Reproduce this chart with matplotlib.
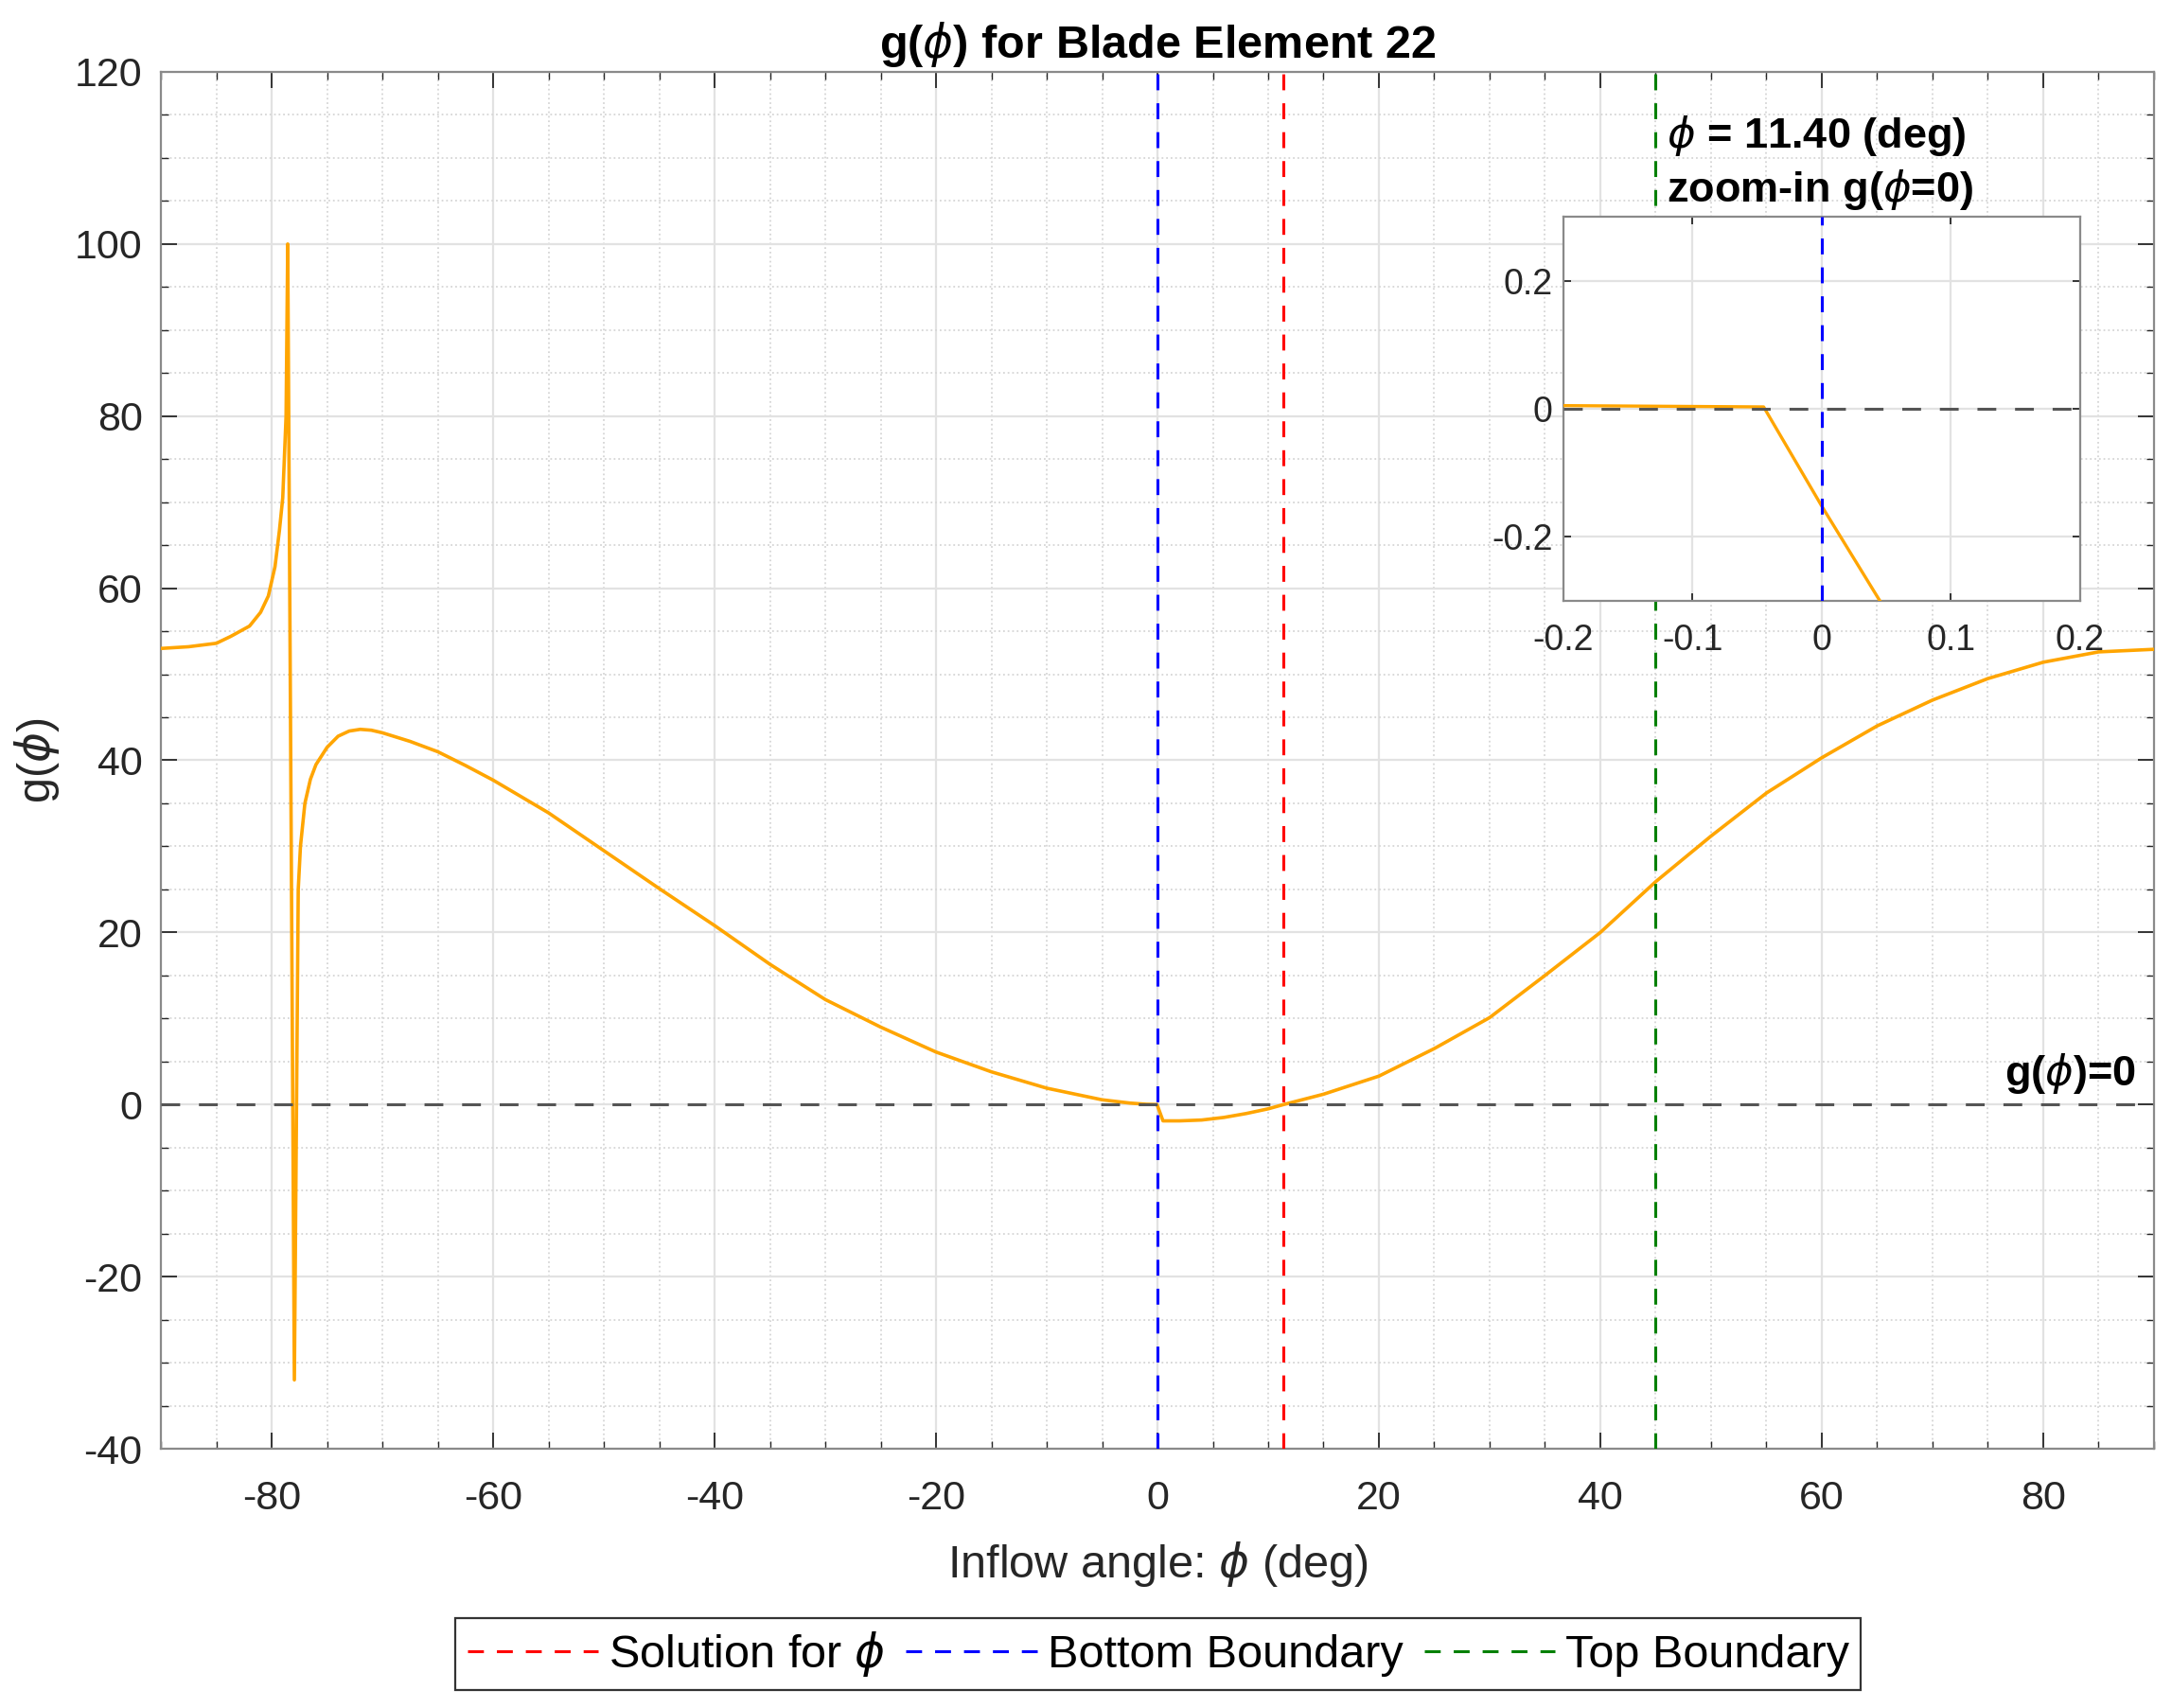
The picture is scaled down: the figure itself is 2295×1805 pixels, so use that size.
import matplotlib
matplotlib.use("Agg")
import matplotlib.pyplot as plt
from matplotlib.ticker import MultipleLocator, FormatStrFormatter

plt.rcParams['font.family'] = ['Liberation Sans', 'DejaVu Sans']
plt.rcParams['axes.unicode_minus'] = False
plt.rcParams['mathtext.fontset'] = 'dejavusans'

# inflow angle (deg) and residual g(phi)
phi = [-90, -87.5, -85, -83.7, -82, -81, -80.3, -79.7, -79.3, -79.0,
       -78.7, -78.55, -77.95, -77.6, -77.4, -77.0, -76.5, -76.0, -75.0, -74.0,
       -73.0, -72.0, -71.0, -70, -67.5, -65, -62.5, -60, -55, -50,
       -45, -40, -35, -30, -25, -20, -15, -10, -5, -2.5,
       -1, -0.2, -0.045, 0, 0.045, 0.5, 2, 4, 6, 8,
       10, 11.4, 15, 20, 25, 30, 35, 40, 45, 50,
       55, 60, 65, 70, 75, 80, 85, 90]
g = [53.0, 53.2, 53.6, 54.4, 55.6, 57.2, 59.1, 62.5, 66.7, 70.5,
     80.0, 100.0, -32.0, 25.0, 30.0, 35.0, 37.8, 39.5, 41.5, 42.8,
     43.4, 43.6, 43.5, 43.2, 42.2, 41.0, 39.4, 37.7, 33.9, 29.5,
     25.1, 20.8, 16.3, 12.2, 9.0, 6.1, 3.8, 1.9, 0.55, 0.17,
     0.03, 0.005, 0.003, -0.152, -0.30, -1.9, -1.9, -1.8, -1.5, -1.05,
     -0.5, 0.0, 1.2, 3.3, 6.5, 10.1, 15.0, 20.0, 25.9, 31.2,
     36.2, 40.3, 44.0, 47.0, 49.5, 51.4, 52.6, 52.9]

phi_solution = 11.40
phi_bottom = 0.0
phi_top = 45.0
blade_element = 22

orange = '#FFA500'
dash_v = (5.5, 4.5)
dash_h = (6.5, 6.5)


def style_axes(ax, tick_pad_x, tick_pad_y):
    for s in ax.spines.values():
        s.set_color('#8a8a8a')
        s.set_linewidth(1.6)
    ax.tick_params(which='both', direction='in', top=True, right=True,
                   colors='#262626', labelcolor='#262626')
    ax.tick_params(axis='x', pad=tick_pad_x)
    ax.tick_params(axis='y', pad=tick_pad_y)
    ax.grid(True, which='major', color='#e2e2e2', linewidth=1.6)
    ax.set_axisbelow(True)


fig = plt.figure(figsize=(22.95, 18.05), dpi=100)
ax = fig.add_axes([0.0741, 0.1518, 0.9176, 0.8061])

ax.plot(phi, g, color=orange, linewidth=2.6, zorder=3)
ax.axhline(0, color='#555555', linestyle='--', dashes=dash_h, linewidth=2.2, zorder=4)
l_sol = ax.axvline(phi_solution, color='red', linestyle='--', dashes=dash_v, linewidth=2.2,
                   label=r'Solution for $\phi$', zorder=4)
l_bot = ax.axvline(phi_bottom, color='blue', linestyle='--', dashes=dash_v, linewidth=2.2,
                   label='Bottom Boundary', zorder=4)
l_top = ax.axvline(phi_top, color='green', linestyle='--', dashes=dash_v, linewidth=2.2,
                   label='Top Boundary', zorder=4)

ax.set_xlim(-90, 90)
ax.set_ylim(-40, 120)
ax.xaxis.set_major_locator(MultipleLocator(20))
ax.yaxis.set_major_locator(MultipleLocator(20))
ax.xaxis.set_minor_locator(MultipleLocator(5))
ax.yaxis.set_minor_locator(MultipleLocator(5))
style_axes(ax, 24, 14)
ax.tick_params(which='major', length=12, width=1.3, labelsize=31)
ax.tick_params(which='minor', length=6, width=1.0)
ax.grid(True, which='minor', color='#d6d6d6', linestyle=':', linewidth=1.3)

ax.set_title(r'g($\phi$) for Blade Element %d' % blade_element,
             fontsize=35, fontweight='bold', pad=11)
ax.set_xlabel(r'Inflow angle: $\phi$ (deg)', fontsize=35, color='#262626')
ax.set_ylabel(r'g($\phi$)', fontsize=35, color='#262626')
ax.xaxis.set_label_coords(0.5, -0.066)
ax.yaxis.set_label_coords(-0.050, 0.5)

ax.text(88.4, 2.2, r'g($\phi$)=0', fontsize=32.5, fontweight='bold',
        ha='right', va='baseline', zorder=6)
ax.text(46.0, 111.2, r'$\phi$ = %.2f (deg)' % phi_solution, fontsize=32.5,
        fontweight='bold', ha='left', va='baseline', zorder=6)
ax.text(46.0, 104.9, r'zoom-in g($\phi$=0)', fontsize=32.5,
        fontweight='bold', ha='left', va='baseline', zorder=6)

# zoomed view around phi = 0
axin = fig.add_axes([0.7198, 0.6482, 0.2379, 0.2249])
axin.plot(phi, g, color=orange, linewidth=2.4, zorder=3)
axin.axhline(0, color='#555555', linestyle='--', dashes=dash_h, linewidth=2.2, zorder=4)
axin.axvline(phi_bottom, color='blue', linestyle='--', dashes=dash_v, linewidth=2.2, zorder=4)
axin.axvline(phi_solution, color='red', linestyle='--', dashes=dash_v, linewidth=2.2, zorder=4)
axin.set_xlim(-0.2, 0.2)
axin.set_ylim(-0.3, 0.3)
axin.set_xticks([-0.2, -0.1, 0, 0.1, 0.2])
axin.set_yticks([-0.2, 0, 0.2])
axin.xaxis.set_major_formatter(FormatStrFormatter('%g'))
axin.yaxis.set_major_formatter(FormatStrFormatter('%g'))
style_axes(axin, 17, 8)
axin.tick_params(which='major', length=6, width=1.3, labelsize=27)

leg = fig.legend(handles=[l_sol, l_bot, l_top], loc='center',
                 bbox_to_anchor=(0.5333, 0.0316), ncol=3, fontsize=35,
                 frameon=True, fancybox=False, framealpha=1,
                 handlelength=2.85, handletextpad=0.23, columnspacing=0.45,
                 borderpad=0.25, borderaxespad=0)
leg.get_frame().set_edgecolor('#333333')
leg.get_frame().set_linewidth(1.6)

fig.savefig('out.png', dpi=100, facecolor='white')
